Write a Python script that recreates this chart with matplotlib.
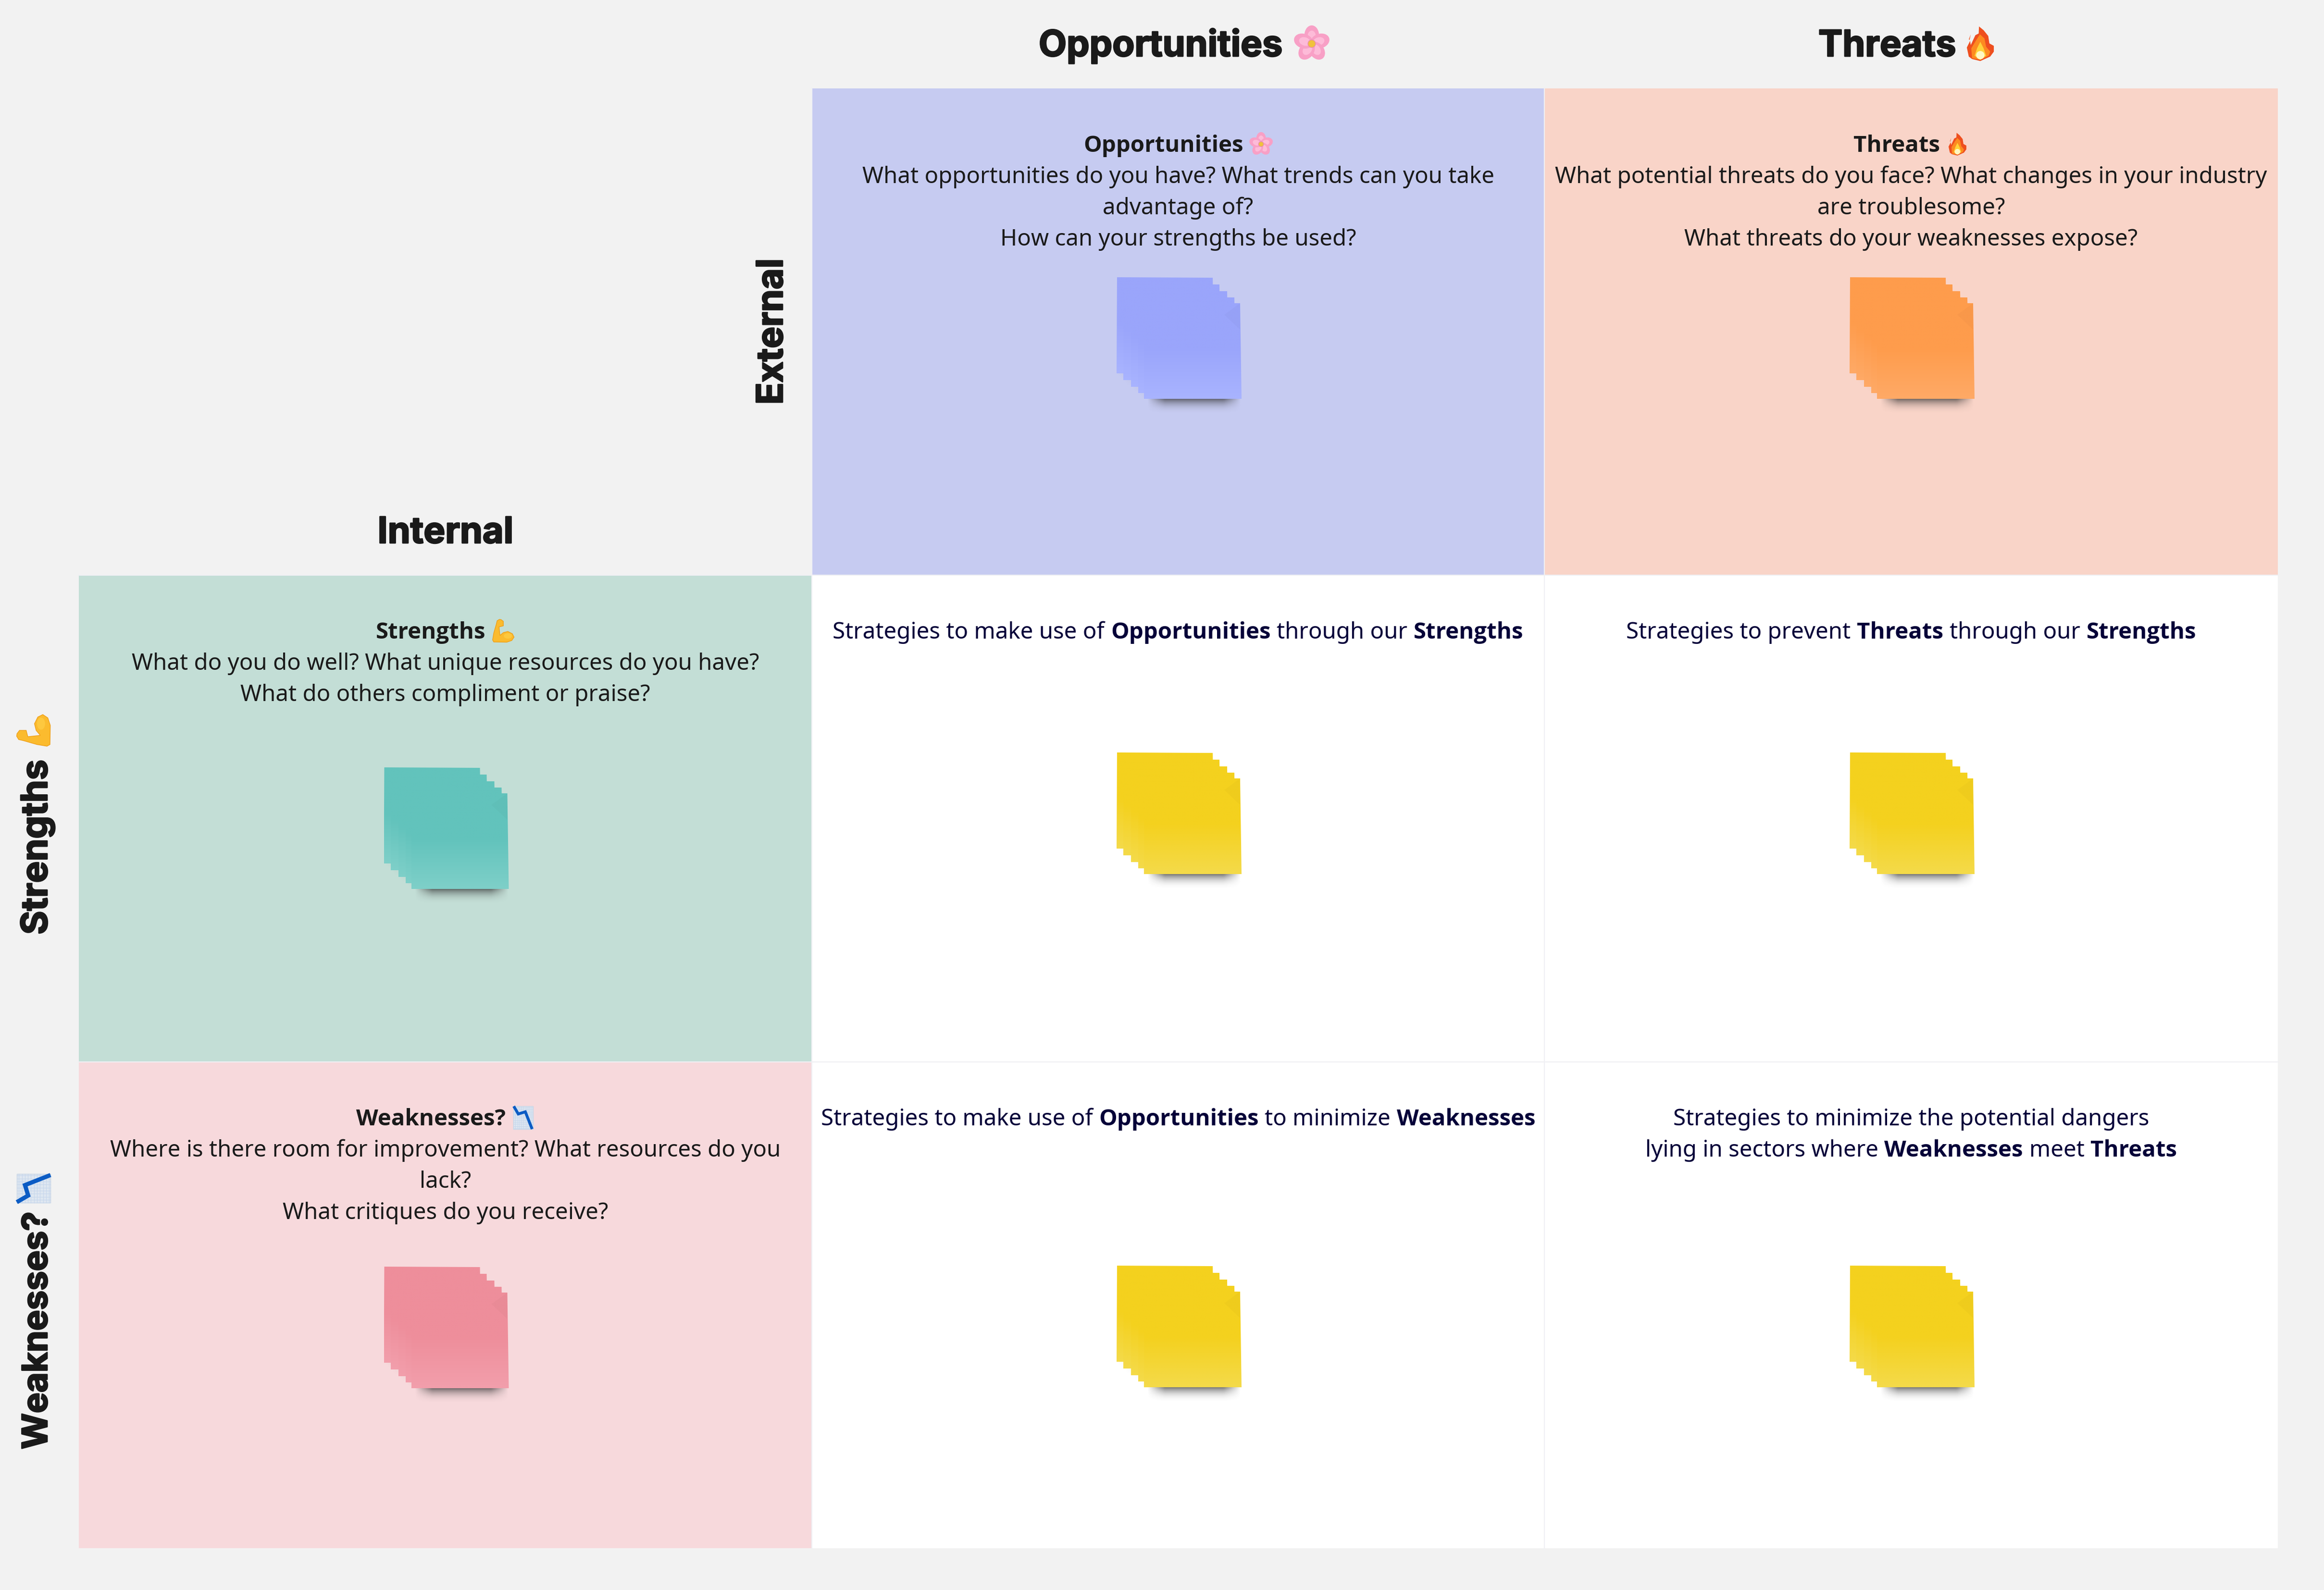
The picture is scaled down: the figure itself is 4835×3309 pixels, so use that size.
#!/usr/bin/env python3
"""SWOT matrix board with sticky note stacks."""

from __future__ import annotations

import matplotlib

matplotlib.use("Agg")
import matplotlib.patheffects as pe
import matplotlib.pyplot as plt
import numpy as np
from matplotlib.colors import to_rgb
from matplotlib.patches import Circle, Ellipse, Polygon, Rectangle
from matplotlib.transforms import Affine2D

WIDTH, HEIGHT = 4835, 3309
COL_EDGES = [164, 1689, 3213, 4739]
ROW_EDGES = [184, 1197, 2210, 3222]

PAGE_COLOR = "#f2f2f2"
DARK = "#1a1a1a"
NAVY = "#050038"
BODY_FONT = "Noto Sans"
BOLD_FONT = "Open Sans"
HEAD_FONT = "Inter"
BODY_SIZE = 34.15
HEAD_SIZE = 54.3

COLUMN_HEADERS = [("Opportunities", "flower"), ("Threats", "flame")]
ROW_HEADERS = [("Strengths", "arm"), ("Weaknesses?", "chart")]
ROW_HEADER_SIZES = [54.3, 52]

CELL_COLORS = [
    [None, "#c6cbf1", "#f9d4c8"],
    ["#c3ded6", "#ffffff", "#ffffff"],
    ["#f7d9dc", "#ffffff", "#ffffff"],
]
NOTE_COLORS = [
    [None, ("#9aa5fb", "#a8b3ff"), ("#fe9c4c", "#ffa965")],
    [("#62c3bc", "#7dcfc8"), ("#f4d11e", "#f4da48"), ("#f4d11e", "#f4da48")],
    [("#ee8e9b", "#f29eab"), ("#f4d11e", "#f4da48"), ("#f4d11e", "#f4da48")],
]
# top of the back note, measured down from the top of its row
NOTE_TOPS = [[None, 393, 393], [400, 369, 369], [426, 424, 424]]

# a line is a list of (text, bold) runs, an icon name stands alone
CELL_TEXT = [
    [
        None,
        [
            [("Opportunities", True), "flower"],
            [("What opportunities do you have? What trends can you take", False)],
            [("advantage of?", False)],
            [("How can your strengths be used?", False)],
        ],
        [
            [("Threats", True), "flame"],
            [("What potential threats do you face? What changes in your industry", False)],
            [("are troublesome?", False)],
            [("What threats do your weaknesses expose?", False)],
        ],
    ],
    [
        [
            [("Strengths", True), "arm"],
            [("What do you do well? What unique resources do you have?", False)],
            [("What do others compliment or praise?", False)],
        ],
        [[("Strategies to make use of", False), ("Opportunities", True), ("through our", False), ("Strengths", True)]],
        [[("Strategies to prevent", False), ("Threats", True), ("through our", False), ("Strengths", True)]],
    ],
    [
        [
            [("Weaknesses?", True), "chart"],
            [("Where is there room for improvement? What resources do you", False)],
            [("lack?", False)],
            [("What critiques do you receive?", False)],
        ],
        [[("Strategies to make use of", False), ("Opportunities", True), ("to minimize", False), ("Weaknesses", True)]],
        [
            [("Strategies to minimize the potential dangers", False)],
            [("lying in sectors where", False), ("Weaknesses", True), ("meet", False), ("Threats", True)],
        ],
    ],
]

# five sheets, back to front, offsets from the back sheet
SHEET_DX = [0, 14, 30, 45, 57]
SHEET_DY = [0, 14, 28, 41, 53]
SHEET_SIZE = 200


def icon_transform(ax, cx, cy, size, rot=0):
    return Affine2D().rotate_deg(rot).scale(size).translate(cx, cy) + ax.transData


def draw_flower(ax, cx, cy, size, rot=0):
    tr = icon_transform(ax, cx, cy, size, rot)
    for angle in range(0, 360, 72):
        place = Affine2D().translate(0, -0.25).rotate_deg(angle) + tr
        ax.add_patch(Ellipse((0, 0), 0.42, 0.56, fc="#f8a0c6", ec="none", transform=place, zorder=6))
        ax.add_patch(Ellipse((0, 0.04), 0.24, 0.34, fc="#fdbbd8", ec="none", transform=place, zorder=6))
    ax.add_patch(Circle((0, 0), 0.11, fc="#f0c23c", ec="#e88fa8", lw=1, transform=tr, zorder=7))


def draw_flame(ax, cx, cy, size, rot=0):
    tr = icon_transform(ax, cx, cy, size, rot)
    outer = [(172, 47), (200, 70), (228, 105), (235, 150), (262, 165), (262, 200), (240, 230), (180, 257),
             (130, 245), (110, 230), (98, 175), (118, 135), (122, 160), (150, 100), (170, 90)]
    middle = [(178, 95), (205, 120), (215, 170), (240, 200), (230, 225), (180, 250), (130, 240), (125, 180), (155, 130)]
    inner = [(180, 140), (200, 180), (215, 225), (180, 250), (145, 225), (160, 180)]
    drop = [(122, 95), (110, 125), (115, 130)]
    for pts, color in [(outer, "#ee4f1f"), (middle, "#fd8a20"), (inner, "#ffd23a"), (drop, "#f2693a")]:
        xy = [((x - 180) / 210, (y - 152) / 210) for x, y in pts]
        ax.add_patch(Polygon(xy, fc=color, ec="none", transform=tr, zorder=6))
    ax.add_patch(Circle((0, 0.33), 0.12, fc="#fff7c4", ec="none", transform=tr, zorder=7))


def draw_arm(ax, cx, cy, size, rot=0):
    # outline is traced with the fist on the left
    tr = icon_transform(ax, cx, cy, size, rot)
    pts = [(50, 170), (65, 150), (105, 150), (115, 188), (190, 180), (165, 150), (155, 110), (175, 70), (205, 55),
           (235, 75), (250, 120), (248, 235), (230, 245), (170, 235), (90, 212), (60, 205), (48, 185)]
    xy = [((x - 150) / 202, (y - 150) / 202) for x, y in pts]
    ax.add_patch(Polygon(xy, fc="#fbbb2e", ec="#ee9f1a", lw=1, transform=tr, zorder=6))
    ax.add_patch(Ellipse((0.22, -0.2), 0.24, 0.36, fc="#fdc83f", ec="none", transform=tr, zorder=7))


def draw_chart(ax, cx, cy, size, rot=0):
    # line is traced as it looks in the rotated row label
    tr = icon_transform(ax, cx, cy, size, rot)
    half_w, half_h = 0.5, 0.43
    ax.add_patch(Rectangle((-half_w, -half_h), 1, 2 * half_h, fc="#dfe7f1", ec="#c9d5e4", lw=1, transform=tr, zorder=6))
    for grid in np.arange(-0.44, 0.5, 0.09):
        ax.plot([grid, grid], [-half_h, half_h], color="#c8d8ec", lw=0.9, transform=tr, zorder=6)
    for grid in np.arange(-0.38, 0.43, 0.09):
        ax.plot([-half_w, half_w], [grid, grid], color="#c8d8ec", lw=0.9, transform=tr, zorder=6)
    pts = [(58, 225), (118, 190), (98, 125), (245, 67)]
    xy = [((x - 152) / 210, (y - 145) / 210) for x, y in pts]
    ax.plot(*zip(*xy), color="#0c5cc4", lw=size * 0.09, solid_joinstyle="miter", transform=tr, zorder=7)


ICONS = {"flower": draw_flower, "flame": draw_flame, "arm": draw_arm, "chart": draw_chart}
# the arm and chart outlines are traced sideways, this turns them upright
UPRIGHT = {"flower": 0, "flame": 0, "arm": 90, "chart": 90}


def head_text(ax, x, y, label, size=HEAD_SIZE, **kwargs):
    artist = ax.text(x, y, label, family=HEAD_FONT, weight="bold", size=size, color=DARK,
                     va="baseline", zorder=5, **kwargs)
    artist.set_path_effects([pe.withStroke(linewidth=2.0, foreground=DARK)])
    return artist


def draw_text_line(ax, renderer, cx, baseline, runs, color):
    size = BODY_SIZE
    gap = size * 1.389 * 0.27
    items = []
    total = 0.0
    for run in runs:
        if isinstance(run, str):
            width = size * 1.389 * 1.0
            items.append((run, width))
        else:
            text, bold = run
            artist = ax.text(0, baseline, text, family=BOLD_FONT if bold else BODY_FONT, size=size, color=color,
                             weight="bold" if bold else "normal", ha="left", va="baseline", zorder=5)
            width = artist.get_window_extent(renderer).width
            items.append((artist, width))
        total += width
    total += gap * (len(items) - 1)
    x = cx - total / 2
    for item, width in items:
        if isinstance(item, str):
            ICONS[item](ax, x + width / 2, baseline - 16, width, UPRIGHT[item])
        else:
            item.set_x(x)
        x += width + gap


def draw_sheet_shadow(ax, x0, y1, strength, depth, start):
    # dark under the sheet edge, fading downwards and towards both ends
    across = np.linspace(0, 1, 64)
    down = np.linspace(0, 1, 24)
    taper = np.clip((across - start) / 0.18, 0, 1) * np.clip((1 - across) / 0.18, 0, 1)
    rgba = np.zeros((24, 64, 4))
    rgba[..., :3] = 0.18
    rgba[..., 3] = np.outer((1 - down) ** 2.4, taper) * strength
    ax.imshow(rgba, extent=(x0, x0 + SHEET_SIZE + 3, y1 + depth, y1), aspect="auto", interpolation="bilinear", zorder=3)


def draw_note_stack(ax, left, top, colors):
    c_top, c_bottom = (np.array(to_rgb(c)) for c in colors)
    # flat over the top half, lighter towards the bottom edge
    shade = np.vstack([np.tile(c_top, (8, 1)), np.linspace(c_top, c_bottom, 10)]).reshape(18, 1, 3)
    for i, (dx, dy) in enumerate(zip(SHEET_DX, SHEET_DY)):
        x0, y0 = left + dx, top + dy
        x1, y1 = x0 + SHEET_SIZE, y0 + SHEET_SIZE
        front = i == len(SHEET_DX) - 1
        draw_sheet_shadow(ax, x0, y1, 0.62 if front else 0.07, 34 if front else 20, 0.03 if front else 0.0)
        corners = [(x0 + 1, y0), (x1, y0 + 1), (x1 + 3, y1), (x0, y1)]
        image = ax.imshow(shade, extent=(x0, x1 + 3, y1, y0), aspect="auto", interpolation="bilinear", zorder=3)
        image.set_clip_path(Polygon(corners, transform=ax.transData))
    # curled corner on the front sheet
    x1 = left + SHEET_DX[-1] + SHEET_SIZE
    y0 = top + SHEET_DY[-1]
    ax.add_patch(Polygon([(x1, y0 + 1), (x1 - 33, y0 + 25), (x1, y0 + 56)], fc="black", ec="none", alpha=0.018, zorder=4))


def main() -> None:
    fig = plt.figure(figsize=(WIDTH / 100, HEIGHT / 100), dpi=100, facecolor=PAGE_COLOR)
    ax = fig.add_axes([0, 0, 1, 1])
    ax.set_axis_off()
    ax.set_xlim(0, WIDTH)
    ax.set_ylim(HEIGHT, 0)
    renderer = fig.canvas.get_renderer()

    for r in range(3):
        for c in range(3):
            color = CELL_COLORS[r][c]
            if color is None:
                continue
            x0, x1 = COL_EDGES[c], COL_EDGES[c + 1]
            y0, y1 = ROW_EDGES[r], ROW_EDGES[r + 1]
            ax.add_patch(Rectangle((x0, y0), x1 - x0, y1 - y0, fc=color, ec="none", zorder=1))
            cx = (x0 + x1) / 2
            text_color = DARK if color != "#ffffff" else NAVY
            for i, runs in enumerate(CELL_TEXT[r][c]):
                draw_text_line(ax, renderer, cx, y0 + 132 + 65 * i, runs, text_color)
            draw_note_stack(ax, cx - 128, y0 + NOTE_TOPS[r][c], NOTE_COLORS[r][c])

    # thin lines between cells
    for x in COL_EDGES[1:3]:
        ax.plot([x, x], [ROW_EDGES[0], ROW_EDGES[-1]], color="#f0f0f4", lw=1.6, zorder=2)
    for y in ROW_EDGES[1:3]:
        ax.plot([COL_EDGES[0], COL_EDGES[-1]], [y, y], color="#f0f0f4", lw=1.6, zorder=2)

    # column headers
    for (label, icon), x, icon_x in zip(COLUMN_HEADERS, [2161, 3783], [2729, 4120]):
        head_text(ax, x, 117, label, ha="left")
        ICONS[icon](ax, icon_x, 91, 72, 0)

    head_text(ax, 927, 1130, "Internal", ha="center")
    head_text(ax, 1628, 842, "External", ha="left", rotation=90, rotation_mode="anchor")

    # row headers run bottom to top with the icon above the word
    for (label, icon), size, bottom, icon_y in zip(ROW_HEADERS, ROW_HEADER_SIZES, [1945, 3016], [1520, 2473]):
        head_text(ax, 98, bottom, label, size=size, ha="left", rotation=90, rotation_mode="anchor")
        ICONS[icon](ax, 70, icon_y, 70, 0)

    ax.set_xlim(0, WIDTH)
    ax.set_ylim(HEIGHT, 0)
    fig.savefig("out.png", dpi=100, facecolor=PAGE_COLOR)
    plt.close(fig)


if __name__ == "__main__":
    main()
